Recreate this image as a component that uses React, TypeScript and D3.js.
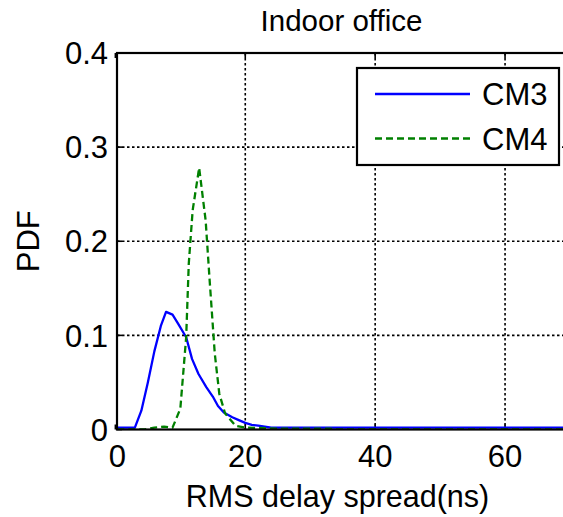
import React from "react";
import * as d3 from "d3";

// RMS delay spread (ns) and estimated PDF for the two channel models
const cm3X = [0.3, 3, 4, 5, 6, 7, 7.8, 8.8, 9.7, 10.9, 11.8, 12.8, 14, 15, 15.8, 16.7, 18, 19, 20, 21, 22, 23, 24, 70];
const cm3Y = [0.002, 0.002, 0.02, 0.05, 0.083, 0.11, 0.125, 0.122, 0.112, 0.098, 0.075, 0.059, 0.045, 0.035, 0.025, 0.018, 0.013, 0.01, 0.007, 0.005, 0.004, 0.003, 0.002, 0.002];

const cm4X = [0.3, 4.5, 6, 7.5, 8.8, 10, 10.9, 11.3, 11.9, 12.9, 13.9, 14.5, 15.3, 16, 16.9, 18.5, 20, 25, 33, 34, 70];
const cm4Y = [0, 0, 0.002, 0.003, 0.002, 0.022, 0.098, 0.176, 0.233, 0.278, 0.222, 0.16, 0.081, 0.038, 0.017, 0.004, 0.002, 0.001, 0.001, 0, 0];

const xTicks = [0, 20, 40, 60];
const yTicks = [0, 0.1, 0.2, 0.3, 0.4];
const yTickLabels = ["0", "0.1", "0.2", "0.3", "0.4"];
const seriesNames = ["CM3", "CM4"];
const seriesColors = ["#0000ff", "#008000"];

const W = 563;
const H = 517;
const FONT = "Arial, 'Liberation Sans', Helvetica, sans-serif";

export default function App() {
  const left = 117;
  const right = 570;
  const top = 53;
  const bottom = 429.5;

  const x = d3.scaleLinear().domain([0.25, 70]).range([left, right]);
  const y = d3.scaleLinear().domain([0, 0.4]).range([bottom, top]);

  const line = d3
    .line<[number, number]>()
    .x((d) => x(d[0]))
    .y((d) => y(d[1]));

  const cm3 = line(cm3X.map((v, i) => [v, cm3Y[i]] as [number, number])) || "";
  const cm4 = line(cm4X.map((v, i) => [v, cm4Y[i]] as [number, number])) || "";

  const lx = 357;
  const ly = 68;
  const lw = 202;
  const lh = 97;

  return (
    <>
      <style>{`body{margin:0}`}</style>
      <svg width={W} height={H} style={{ display: "block", background: "#fff" }} fontFamily={FONT}>
        <defs>
          <clipPath id="plotArea">
            <rect x={left} y={top} width={right - left} height={bottom - top} />
          </clipPath>
        </defs>

        {/* grid */}
        {xTicks.filter((t) => t > 0).map((t) => (
          <line key={"gx" + t} x1={x(t)} x2={x(t)} y1={top} y2={bottom} stroke="#000" strokeWidth={1.6} strokeDasharray="2.5,2.5" />
        ))}
        {yTicks.filter((t) => t > 0 && t < 0.4).map((t) => (
          <line key={"gy" + t} x1={left} x2={right} y1={y(t)} y2={y(t)} stroke="#000" strokeWidth={1.6} strokeDasharray="2.5,2.5" />
        ))}

        {/* tick marks, drawn inward */}
        {xTicks.map((t) => (
          <g key={"tx" + t}>
            <line x1={x(t)} x2={x(t)} y1={bottom} y2={bottom - 5} stroke="#000" strokeWidth={1.6} />
            <line x1={x(t)} x2={x(t)} y1={top} y2={top + 5} stroke="#000" strokeWidth={1.6} />
          </g>
        ))}
        {yTicks.map((t) => (
          <g key={"ty" + t}>
            <line x1={left} x2={left + 5} y1={y(t)} y2={y(t)} stroke="#000" strokeWidth={1.6} />
            <line x1={right} x2={right - 5} y1={y(t)} y2={y(t)} stroke="#000" strokeWidth={1.6} />
          </g>
        ))}

        {/* curves */}
        <g clipPath="url(#plotArea)">
          <path d={cm3} fill="none" stroke={seriesColors[0]} strokeWidth={2.3} strokeLinejoin="round" />
          <path d={cm4} fill="none" stroke={seriesColors[1]} strokeWidth={2.3} strokeDasharray="7,4" />
        </g>

        {/* axes frame */}
        <rect x={left} y={top} width={right - left} height={bottom - top} fill="none" stroke="#000" strokeWidth={2.2} />

        {/* tick labels */}
        {xTicks.map((t) => (
          <text key={"lx" + t} x={x(t) + (t === 0 ? 2 : 0)} y={467} textAnchor="middle" fontSize={31} fill="#000">
            {t}
          </text>
        ))}
        {yTicks.map((t, i) => (
          <text key={"ly" + t} x={108} y={y(t)} dy="0.36em" textAnchor="end" fontSize={31} fill="#000">
            {yTickLabels[i]}
          </text>
        ))}

        {/* titles */}
        <text x={(left + right) / 2 - 2} y={31} textAnchor="middle" fontSize={29.5} fill="#000">
          Indoor office
        </text>
        <text x={(left + right) / 2 - 6} y={507} textAnchor="middle" fontSize={30.5} fill="#000">
          RMS delay spread(ns)
        </text>
        <text transform={`translate(39,${(top + bottom) / 2}) rotate(-90)`} textAnchor="middle" fontSize={31} fill="#000">
          PDF
        </text>

        {/* legend */}
        <rect x={lx} y={ly} width={lw} height={lh} fill="#fff" stroke="#000" strokeWidth={2.2} />
        {seriesNames.map((name, i) => (
          <g key={name}>
            <line
              x1={375}
              x2={470}
              y1={94 + i * 44.5}
              y2={94 + i * 44.5}
              stroke={seriesColors[i]}
              strokeWidth={2.3}
              strokeDasharray={i === 1 ? "7,4" : undefined}
            />
            <text x={482} y={105 + i * 44.5} fontSize={31} fill="#000">
              {name}
            </text>
          </g>
        ))}
      </svg>
    </>
  );
}
